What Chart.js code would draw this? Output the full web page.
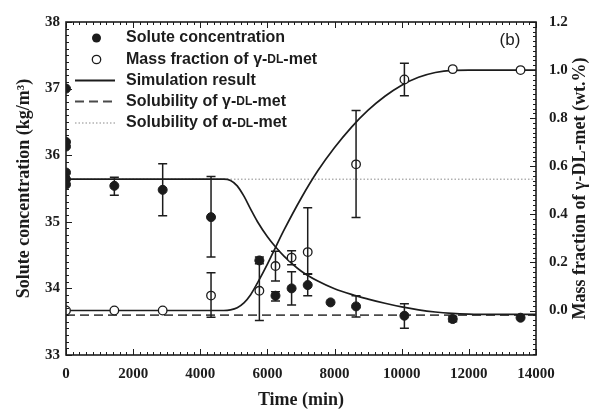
<!DOCTYPE html>
<html><head><meta charset="utf-8">
<script src="https://cdn.jsdelivr.net/npm/chart.js@4/dist/chart.umd.min.js"></script>
<style>html,body{margin:0;padding:0;background:#fff}#wrap{width:595px;height:411px}</style>
</head><body><div id="wrap"><canvas id="c" width="595" height="411"></canvas></div>
<script>
// ---- data ----
const timeConc = [0, 0, 0, 0, 0, 0, 1440, 2880, 4320, 5760, 6240, 6720, 7200, 7880, 8640, 10080, 11520, 13540];
const conc     = [37.0, 36.2, 36.13, 35.74, 35.64, 35.56, 35.54, 35.48, 35.07, 34.42, 33.89, 34.0, 34.05, 33.79, 33.73, 33.59, 33.54, 33.56];
const concErrLow  = [null, null, null, null, null, null, 35.40, 35.09, 34.47, 34.37, 33.81, 33.75, 33.89, null, 33.57, 33.40, 33.50, null];
const concErrHigh = [null, null, null, null, null, null, 35.67, 35.87, 35.68, 34.47, 33.95, 34.25, 34.22, null, 33.89, 33.77, 33.58, null];

const timeFrac = [0, 1440, 2880, 4320, 5760, 6240, 6720, 7200, 8640, 10080, 11520, 13540];
const frac     = [0.0, 0.0, 0.0, 0.062, 0.082, 0.185, 0.22, 0.243, 0.608, 0.961, 1.004, 1.0];
const fracErrLow  = [null, null, null, -0.028, -0.041, 0.123, 0.19, 0.151, 0.387, 0.893, null, null];
const fracErrHigh = [null, null, null, 0.157, 0.205, 0.246, 0.249, 0.427, 0.832, 1.028, null, null];

const simTime = [0, 1000, 2000, 3000, 4000, 4500, 4700, 4900, 5100, 5300, 5500, 5700, 6000, 6250, 6500, 7000, 7500, 8000, 8500, 9000, 9500, 10000, 10500, 11000, 11500, 12000, 12500, 13000, 14000];
const simConc = [35.64, 35.64, 35.64, 35.64, 35.64, 35.64, 35.64, 35.62, 35.54, 35.385, 35.19, 35.005, 34.775, 34.617, 34.482, 34.262, 34.11, 33.995, 33.91, 33.84, 33.777, 33.722, 33.678, 33.646, 33.626, 33.615, 33.61, 33.61, 33.61];
const simFrac = [0, 0, 0, 0, 0, 0, 0, 0.003, 0.012, 0.032, 0.066, 0.114, 0.193, 0.265, 0.336, 0.466, 0.581, 0.678, 0.762, 0.833, 0.891, 0.937, 0.97, 0.99, 0.999, 1.0, 1.0, 1.0, 1.0];

const timeRange = [0, 14000];
const gammaSolubility = 33.6;
const alphaSolubility = 35.64;

const xTicks = [0, 2000, 4000, 6000, 8000, 10000, 12000, 14000];
const leftTicks = [33, 34, 35, 36, 37, 38];
const rightTicks = [0, 0.2, 0.4, 0.6, 0.8, 1.0, 1.2];

const legendLabels = ['Solute concentration', 'Mass fraction of γ-DL-met', 'Simulation result', 'Solubility of γ-DL-met', 'Solubility of α-DL-met'];
const xTitle = 'Time (min)';
const leftTitle = 'Solute concentration (kg/m³)';
const rightTitle = 'Mass fraction of γ-DL-met (wt.%)';
const panelLabel = '(b)';

// ---- helpers ----
const INK = '#1c1c1c';
const pts = (xs, ys) => xs.map((x, i) => ({x: x, y: ys[i]}));
const serif = '"Liberation Serif", "Times New Roman", serif';
const sans = '"Liberation Sans", Arial, sans-serif';

const errorBars = {
  id: 'errorBars',
  afterDatasetsDraw(chart) {
    const ctx = chart.ctx, xs = chart.scales.x;
    const sets = [
      [timeConc, concErrLow, concErrHigh, chart.scales.y],
      [timeFrac, fracErrLow, fracErrHigh, chart.scales.y1]
    ];
    ctx.save();
    ctx.strokeStyle = INK; ctx.lineWidth = 1.5;
    sets.forEach(([t, lo, hi, ys]) => {
      t.forEach((tv, i) => {
        if (lo[i] == null) return;
        const px = xs.getPixelForValue(tv);
        const y1 = ys.getPixelForValue(lo[i]), y2 = ys.getPixelForValue(hi[i]);
        ctx.beginPath();
        ctx.moveTo(px, y1); ctx.lineTo(px, y2);
        ctx.moveTo(px - 4.5, y1); ctx.lineTo(px + 4.5, y1);
        ctx.moveTo(px - 4.5, y2); ctx.lineTo(px + 4.5, y2);
        ctx.stroke();
      });
    });
    ctx.restore();
  }
};

const frameAndText = {
  id: 'frameAndText',
  afterDraw(chart) {
    const ctx = chart.ctx, a = chart.chartArea;
    const xs = chart.scales.x, yl = chart.scales.y, yr = chart.scales.y1;
    ctx.save();
    ctx.strokeStyle = INK;
    // minor/major ticks inward
    ctx.lineWidth = 1;
    ctx.beginPath();
    for (let v = 0; v <= 14000; v += 200) {
      const px = Math.round(xs.getPixelForValue(v)) + 0.5;
      const len = (v % 2000 === 0) ? 6 : 3;
      ctx.moveTo(px, a.bottom); ctx.lineTo(px, a.bottom - len);
      ctx.moveTo(px, a.top); ctx.lineTo(px, a.top + len);
    }
    for (let k = 0; k <= 50; k++) {
      const v = 33 + k * 0.1;
      const py = Math.round(yl.getPixelForValue(v)) + 0.5;
      const len = (k % 10 === 0) ? 6 : 3;
      ctx.moveTo(a.left, py); ctx.lineTo(a.left + len, py);
    }
    for (let k = -9; k <= 60; k++) {
      const v = k * 0.02;
      const py = Math.round(yr.getPixelForValue(v)) + 0.5;
      if (py < a.top || py > a.bottom) continue;
      const len = (k % 10 === 0) ? 6 : 3;
      ctx.moveTo(a.right, py); ctx.lineTo(a.right - len, py);
    }
    ctx.stroke();
    // frame
    ctx.lineWidth = 1.6;
    ctx.strokeRect(a.left, a.top, a.right - a.left, a.bottom - a.top);

    // legend
    const rows = [38, 59.5, 80.5, 101.5, 123];
    const symX = 96.5, lx0 = 75, lx1 = 115, tx = 126;
    ctx.fillStyle = INK;
    ctx.beginPath(); ctx.arc(symX, rows[0], 4.5, 0, Math.PI * 2); ctx.fill();
    ctx.fillStyle = '#fff'; ctx.lineWidth = 1.3;
    ctx.beginPath(); ctx.arc(symX, rows[1], 4.2, 0, Math.PI * 2); ctx.fill(); ctx.stroke();
    ctx.lineWidth = 1.8; ctx.setLineDash([]);
    ctx.beginPath(); ctx.moveTo(lx0, rows[2]); ctx.lineTo(lx1, rows[2]); ctx.stroke();
    ctx.strokeStyle = '#4a4a4a'; ctx.lineWidth = 1.8; ctx.setLineDash([9, 5]);
    ctx.beginPath(); ctx.moveTo(lx0, rows[3]); ctx.lineTo(lx1, rows[3]); ctx.stroke();
    ctx.strokeStyle = '#8a8a8a'; ctx.lineWidth = 1; ctx.setLineDash([1.5, 2]);
    ctx.beginPath(); ctx.moveTo(lx0, rows[4]); ctx.lineTo(lx1, rows[4]); ctx.stroke();
    ctx.setLineDash([]);

    ctx.fillStyle = INK;
    ctx.textBaseline = 'middle'; ctx.textAlign = 'left';
    const big = 'bold 16px ' + sans, small = 'bold 12px ' + sans;
    legendLabels.forEach((lab, i) => {
      const parts = lab.split('DL');
      let x = tx;
      parts.forEach((p, j) => {
        ctx.font = big; ctx.fillText(p, x, rows[i]); x += ctx.measureText(p).width;
        if (j < parts.length - 1) {
          ctx.font = small; ctx.fillText('DL', x, rows[i] + 0.5); x += ctx.measureText('DL').width;
        }
      });
    });

    ctx.font = '17px ' + sans; ctx.textAlign = 'center';
    ctx.fillText(panelLabel, 510, 40);

    ctx.save();
    ctx.translate(580, (a.top + a.bottom) / 2);
    ctx.rotate(-Math.PI / 2);
    ctx.font = 'bold 18px ' + serif; ctx.textAlign = 'center'; ctx.textBaseline = 'middle';
    ctx.fillText(rightTitle, 0, 0);
    ctx.restore();
    ctx.restore();
  }
};

new Chart(document.getElementById('c'), {
  type: 'scatter',
  data: {
    datasets: [
      { label: legendLabels[0], data: pts(timeConc, conc), yAxisID: 'y', pointRadius: 4.5,
        pointBackgroundColor: INK, pointBorderColor: INK, pointBorderWidth: 1, order: 0 },
      { label: legendLabels[1], data: pts(timeFrac, frac), yAxisID: 'y1', pointRadius: 4.3,
        pointBackgroundColor: '#fff', pointBorderColor: INK, pointBorderWidth: 1.3, order: 1 },
      { label: legendLabels[2], data: pts(simTime, simConc), yAxisID: 'y', showLine: true, pointRadius: 0,
        borderColor: INK, borderWidth: 1.7, cubicInterpolationMode: 'monotone', order: 2 },
      { label: legendLabels[2], data: pts(simTime, simFrac), yAxisID: 'y1', showLine: true, pointRadius: 0,
        borderColor: INK, borderWidth: 1.7, cubicInterpolationMode: 'monotone', order: 3 },
      { label: legendLabels[3], data: pts(timeRange, [gammaSolubility, gammaSolubility]), yAxisID: 'y', showLine: true, pointRadius: 0,
        borderColor: '#4a4a4a', borderWidth: 1.8, borderDash: [9, 5], order: 4 },
      { label: legendLabels[4], data: pts(timeRange, [alphaSolubility, alphaSolubility]), yAxisID: 'y', showLine: true, pointRadius: 0,
        borderColor: '#8a8a8a', borderWidth: 1, borderDash: [1.5, 2], order: 5 }
    ]
  },
  options: {
    responsive: false,
    devicePixelRatio: 1,
    animation: false,
    layout: { padding: { top: 17, left: 0, right: 0, bottom: 0 } },
    plugins: { legend: { display: false }, tooltip: { enabled: false } },
    scales: {
      x: {
        type: 'linear', min: 0, max: 14000,
        afterBuildTicks: s => { s.ticks = xTicks.map(v => ({value: v})); },
        afterFit: s => { s.height = 56; },
        grid: { display: false, drawTicks: false }, border: { display: false },
        ticks: { padding: 10, color: INK, font: { family: serif, weight: 'bold', size: 15 }, maxRotation: 0,
                 callback: v => String(v) },
        title: { display: true, text: xTitle, color: INK, font: { family: serif, weight: 'bold', size: 18 }, padding: { top: 0, bottom: 0 } }
      },
      y: {
        type: 'linear', position: 'left', min: 33, max: 38,
        afterBuildTicks: s => { s.ticks = leftTicks.map(v => ({value: v})); },
        afterFit: s => { s.width = 66; },
        grid: { display: false, drawTicks: false }, border: { display: false },
        ticks: { padding: 6, color: INK, font: { family: serif, weight: 'bold', size: 15 }, callback: v => String(v) },
        title: { display: true, text: leftTitle, color: INK, font: { family: serif, weight: 'bold', size: 18 }, padding: { top: 14, bottom: 0 } }
      },
      y1: {
        type: 'linear', position: 'right', min: -0.185, max: 1.2,
        afterBuildTicks: s => { s.ticks = rightTicks.map(v => ({value: v})); },
        afterFit: s => { s.width = 59; },
        grid: { display: false, drawTicks: false }, border: { display: false },
        ticks: { padding: 13, color: INK, font: { family: serif, weight: 'bold', size: 15 }, callback: v => Number(v).toFixed(1) }
      }
    }
  },
  plugins: [errorBars, frameAndText]
});
</script>
</body></html>
